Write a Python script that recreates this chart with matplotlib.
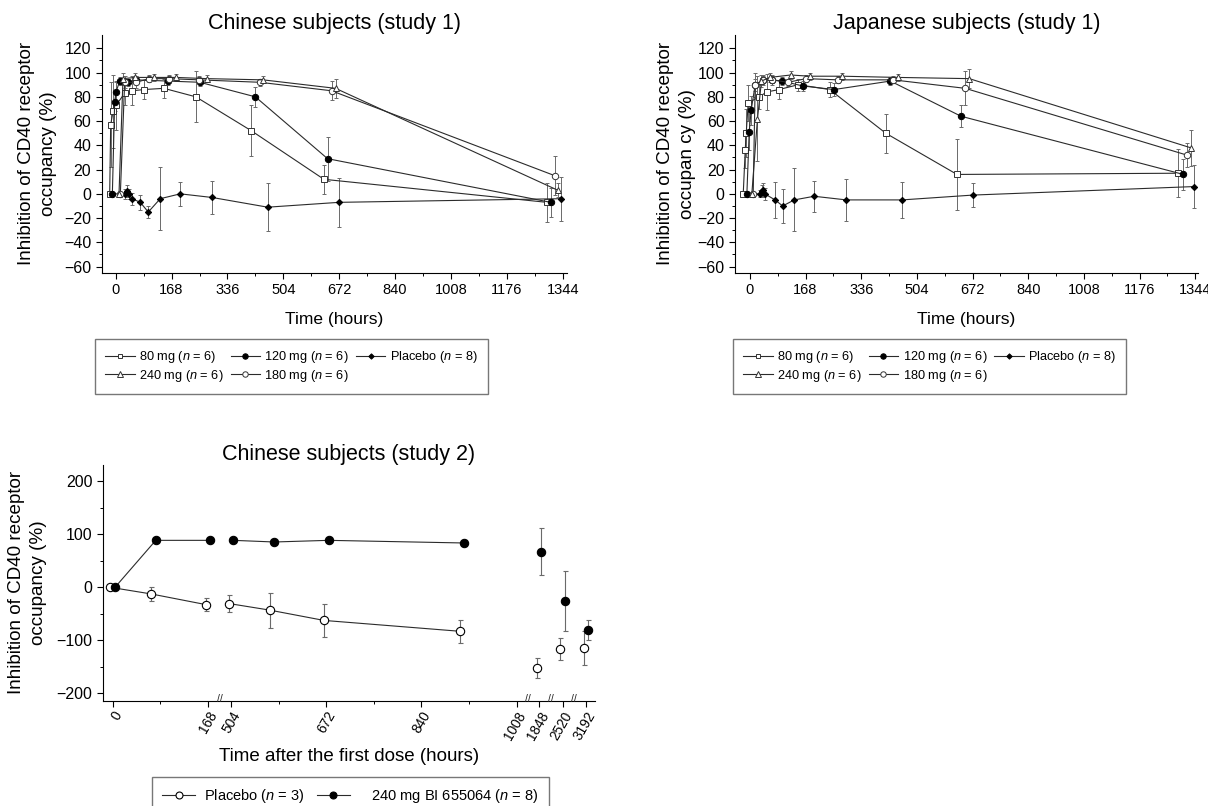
import matplotlib
matplotlib.use('Agg')
import matplotlib.pyplot as plt
import matplotlib.transforms as mtransforms
from matplotlib.lines import Line2D
import numpy as np

plt.rcParams['font.family'] = ['Liberation Sans', 'DejaVu Sans']
plt.rcParams['mathtext.fontset'] = 'custom'
plt.rcParams['mathtext.rm'] = 'Liberation Sans'
plt.rcParams['mathtext.it'] = 'Liberation Sans:italic'

# ---- Chinese subjects (study 1) ----
cn_80_t = [-18, -15, -8, 1, 27, 50, 85, 145, 241, 408, 626, 1296]
cn_80_v = [0, 57, 68, 73, 83, 85, 86, 87, 80, 52, 12, -7]
cn_80_e = [0, 35, 30, 20, 10, 12, 8, 8, 21, 21, 12, 16]

cn_120_t = [-10, -3, 1, 12, 37, 60, 157, 253, 420, 637, 1308]
cn_120_v = [0, 76, 84, 93, 92, 94, 93, 92, 80, 29, -7]
cn_120_e = [0, 8, 8, 3, 3, 3, 3, 3, 8, 18, 12]

cn_240_t = [10, 22, 59, 114, 181, 275, 443, 661, 1329]
cn_240_v = [0, 95, 96, 96, 96, 95, 94, 87, 3]
cn_240_e = [0, 5, 4, 3, 3, 3, 3, 8, 6]

cn_180_t = [14, 27, 62, 100, 160, 250, 433, 649, 1320]
cn_180_v = [0, 92, 92, 95, 95, 94, 92, 85, 15]
cn_180_e = [0, 5, 5, 3, 3, 3, 3, 8, 16]

cn_pbo_t = [-11, 27, 34, 39, 49, 74, 98, 134, 194, 290, 457, 672, 1340]
cn_pbo_v = [0, 0, 2, 0, -4, -7, -15, -4, 0, -3, -11, -7, -4]
cn_pbo_e = [0, 4, 5, 4, 5, 6, 5, 26, 10, 14, 20, 20, 18]

# ---- Japanese subjects (study 1) ----
jp_80_t = [-20, -14, -11, -5, 28, 51, 88, 146, 241, 410, 625, 1293]
jp_80_v = [0, 36, 50, 75, 80, 84, 86, 90, 86, 50, 16, 17]
jp_80_e = [0, 15, 20, 15, 10, 15, 8, 5, 6, 16, 29, 20]

jp_120_t = [-9, -2, 4, 16, 41, 66, 98, 159, 254, 424, 637, 1308]
jp_120_v = [0, 51, 69, 90, 94, 94, 93, 89, 86, 93, 64, 16]
jp_120_e = [0, 15, 12, 5, 3, 3, 3, 4, 5, 3, 9, 13]

jp_240_t = [6, 23, 35, 60, 123, 181, 279, 447, 662, 1330]
jp_240_v = [0, 62, 93, 96, 98, 97, 97, 96, 95, 38]
jp_240_e = [0, 35, 5, 4, 3, 3, 3, 3, 8, 15]

jp_180_t = [10, 16, 41, 66, 115, 170, 266, 432, 650, 1318]
jp_180_v = [0, 90, 94, 94, 92, 95, 94, 94, 87, 32]
jp_180_e = [0, 10, 4, 4, 3, 3, 3, 3, 14, 10]

jp_pbo_t = [-9, 31, 36, 40, 45, 76, 99, 134, 194, 291, 459, 674, 1340]
jp_pbo_v = [0, 0, 2, 3, 0, -5, -10, -5, -2, -5, -5, -1, 6]
jp_pbo_e = [0, 3, 5, 6, 5, 15, 14, 26, 13, 17, 15, 10, 18]

# ---- Chinese subjects (study 2) ----
s2_t = [0, 72, 168, 504, 576, 672, 912, 1848, 2520, 3192]
s2_pbo_v = [0, -12.5, -32.5, -30.6, -43, -62.5, -83, -153, -117, -115]
s2_pbo_e = [0, 14, 12.5, 16.6, 33, 31, 21.6, 19, 21, 32]
s2_bi_v = [0, 88.7, 88.7, 88.7, 85.6, 88.7, 83.7, 67.5, -26, -80]
s2_bi_e = [0, 4, 4, 4, 4, 4, 5, 44, 57, 19]
s2_segments = [(0, 3), (3, 7)]   # connected runs; the rest are lone points

lab_80 = '80 mg ($\\mathit{n}$ = 6)'
lab_120 = '120 mg ($\\mathit{n}$ = 6)'
lab_240 = '240 mg ($\\mathit{n}$ = 6)'
lab_180 = '180 mg ($\\mathit{n}$ = 6)'
lab_pbo = 'Placebo ($\\mathit{n}$ = 8)'

LINE = '#2b2b2b'
ERR = '#6a6a6a'

st_80 = dict(marker='s', mfc='white', mec='#333333', ms=4.2, mew=0.7)
st_120 = dict(marker='o', mfc='black', mec='black', ms=4.6, mew=0.7)
st_240 = dict(marker='^', mfc='white', mec='#333333', ms=4.6, mew=0.7)
st_180 = dict(marker='o', mfc='white', mec='#333333', ms=4.6, mew=0.7)
st_pbo = dict(marker='D', mfc='black', mec='black', ms=3.2, mew=0.7)


def draw_study1(ax, series, title, ylabel, xlim, legend_xy, ylab_x):
    for t, v, e, st in series:
        ax.errorbar(t, v, yerr=e, fmt='none', ecolor=ERR, elinewidth=0.7,
                    capsize=1.6, capthick=0.7, zorder=2)
        ax.plot(t, v, color=LINE, lw=0.8, zorder=3, **st)
    ax.set_xlim(*xlim)
    ax.set_ylim(-65, 131)
    ax.set_xticks(np.arange(0, 1345, 168))
    ax.set_xticks(np.arange(84, 1345, 168), minor=True)
    ax.set_yticks(np.arange(-60, 121, 20))
    ax.set_yticks(np.arange(-60, 121, 10), minor=True)
    ax.tick_params(axis='x', labelsize=10.5)
    ax.tick_params(axis='y', labelsize=11.5)
    ax.tick_params(which='major', length=4, width=0.8)
    ax.tick_params(which='minor', length=2.5, width=0.7)
    for s in ['top', 'right']:
        ax.spines[s].set_visible(False)
    ax.set_title(title, fontsize=15.5, pad=4.5)
    ax.set_xlabel('Time (hours)', fontsize=12.5)
    ax.xaxis.set_label_coords(0.5, -0.165)
    ax.set_ylabel(ylabel, fontsize=13.6, linespacing=1.32)
    ax.yaxis.set_label_coords(ylab_x, 0.5)

    styles = [st_80, st_240, st_120, st_180, st_pbo]
    labels = [lab_80, lab_240, lab_120, lab_180, lab_pbo]
    handles = [Line2D([], [], color=LINE, lw=0.8, **dict(s, ms=s['ms'] * 0.85))
               for s in styles]
    fig.legend(handles, labels, ncol=3, loc='upper left', bbox_to_anchor=legend_xy,
               bbox_transform=fig.transFigure, frameon=True, fancybox=False,
               edgecolor='#555555', fontsize=9.2, handlelength=2.3,
               handletextpad=0.35, columnspacing=0.55, borderpad=0.8,
               labelspacing=0.2, borderaxespad=0)


fig = plt.figure(figsize=(12.08, 8.06), dpi=100)

ax1 = fig.add_axes([0.0842, 0.6617, 0.3852, 0.2949])
draw_study1(ax1,
            [(cn_pbo_t, cn_pbo_v, cn_pbo_e, st_pbo),
             (cn_80_t, cn_80_v, cn_80_e, st_80),
             (cn_120_t, cn_120_v, cn_120_e, st_120),
             (cn_180_t, cn_180_v, cn_180_e, st_180),
             (cn_240_t, cn_240_v, cn_240_e, st_240)],
            'Chinese subjects (study 1)',
            'Inhibition of CD40 receptor\noccupancy (%)',
            (-42, 1357), (0.0786, 0.5794), -0.097)

ax2 = fig.add_axes([0.6084, 0.6617, 0.3833, 0.2949])
draw_study1(ax2,
            [(jp_pbo_t, jp_pbo_v, jp_pbo_e, st_pbo),
             (jp_80_t, jp_80_v, jp_80_e, st_80),
             (jp_120_t, jp_120_v, jp_120_e, st_120),
             (jp_180_t, jp_180_v, jp_180_e, st_180),
             (jp_240_t, jp_240_v, jp_240_e, st_240)],
            'Japanese subjects (study 1)',
            'Inhibition of CD40 receptor\noccupan cy (%)',
            (-45, 1352), (0.6068, 0.5794), -0.085)

# ---- bottom panel with a broken time axis ----
brk_h = np.array([0, 168, 504, 1008, 1848, 2520, 3192], float)
brk_u = np.array([0, 168, 209.2, 713.2, 753.2, 794.6, 835.8])
tail = (brk_u[-1] - brk_u[-2]) / (brk_h[-1] - brk_h[-2])


def fwd(x):
    x = np.asarray(x, float)
    y = np.interp(x, brk_h, brk_u)
    y = np.where(x < 0, x, y)
    return np.where(x > brk_h[-1], brk_u[-1] + (x - brk_h[-1]) * tail, y)


def inv(u):
    u = np.asarray(u, float)
    y = np.interp(u, brk_u, brk_h)
    y = np.where(u < 0, u, y)
    return np.where(u > brk_u[-1], brk_h[-1] + (u - brk_u[-1]) / tail, y)


ax3 = fig.add_axes([0.085, 0.1307, 0.4075, 0.2924])
ax3.set_xscale('function', functions=(fwd, inv))
left = mtransforms.offset_copy(ax3.transData, fig=fig, x=-2.3, y=0, units='dots')
right = mtransforms.offset_copy(ax3.transData, fig=fig, x=2.3, y=0, units='dots')

t2 = np.array(s2_t, float)
for v, e, tr, mfc in [(s2_pbo_v, s2_pbo_e, left, 'white'), (s2_bi_v, s2_bi_e, right, 'black')]:
    v = np.array(v)
    ax3.errorbar(t2, v, yerr=e, fmt='none', ecolor=ERR, elinewidth=0.8,
                 capsize=1.8, capthick=0.8, transform=tr, zorder=2)
    for a, b in s2_segments:
        ax3.plot(t2[a:b], v[a:b], color=LINE, lw=0.8, transform=tr, zorder=3)
    ax3.plot(t2, v, ls='none', marker='o', ms=6, mfc=mfc, mec='black',
             mew=0.8, transform=tr, zorder=4)

ax3.set_xlim(-17.7, 3451)
ax3.set_ylim(-214, 231)
ax3.set_xticks([0, 168, 504, 672, 840, 1008, 1848, 2520, 3192])
ax3.set_xticks([84, 588, 756, 924], minor=True)
ax3.set_yticks([-200, -100, 0, 100, 200])
ax3.set_yticks([-150, -50, 50, 150], minor=True)
for lab in ax3.get_xticklabels():
    lab.set_rotation(60)
    lab.set_ha('right')
    lab.set_rotation_mode('anchor')
ax3.tick_params(axis='x', labelsize=9.8, pad=2)
ax3.tick_params(axis='y', labelsize=11.5)
ax3.tick_params(which='major', length=4, width=0.8)
ax3.tick_params(which='minor', length=2.5, width=0.7)
for s in ['top', 'right']:
    ax3.spines[s].set_visible(False)
blend = mtransforms.blended_transform_factory(ax3.transData, ax3.transAxes)
for a, b in [(168, 504), (1008, 1848), (1848, 2520), (2520, 3192)]:
    ax3.text((a + b) / 2, 0.005, '//', transform=blend, ha='center', va='center',
             fontsize=7.5, color='#222222', clip_on=False)
ax3.set_title('Chinese subjects (study 2)', fontsize=15.5, pad=2)
ax3.set_xlabel('Time after the first dose (hours)', fontsize=13.5)
ax3.xaxis.set_label_coords(0.5, -0.2)
ax3.set_ylabel('Inhibition of CD40 receptor\noccupancy (%)', fontsize=13.6, linespacing=1.32)
ax3.yaxis.set_label_coords(-0.114, 0.5)

h_pbo = Line2D([], [], color=LINE, lw=0.8, marker='o', ms=5, mfc='white', mec='black', mew=0.8)
h_bi = Line2D([], [], color=LINE, lw=0.8, marker='o', ms=5, mfc='black', mec='black', mew=0.8)
fig.legend([h_pbo, h_bi], ['Placebo ($\\mathit{n}$ = 3)', '   240 mg BI 655064 ($\\mathit{n}$ = 8)'],
           ncol=2, loc='upper left', bbox_to_anchor=(0.1256, 0.036),
           bbox_transform=fig.transFigure, frameon=True, fancybox=False,
           edgecolor='#555555', fontsize=10.5, handlelength=2.3,
           handletextpad=0.6, columnspacing=0.8, borderpad=0.7, borderaxespad=0)

fig.savefig('out.png', dpi=100)
